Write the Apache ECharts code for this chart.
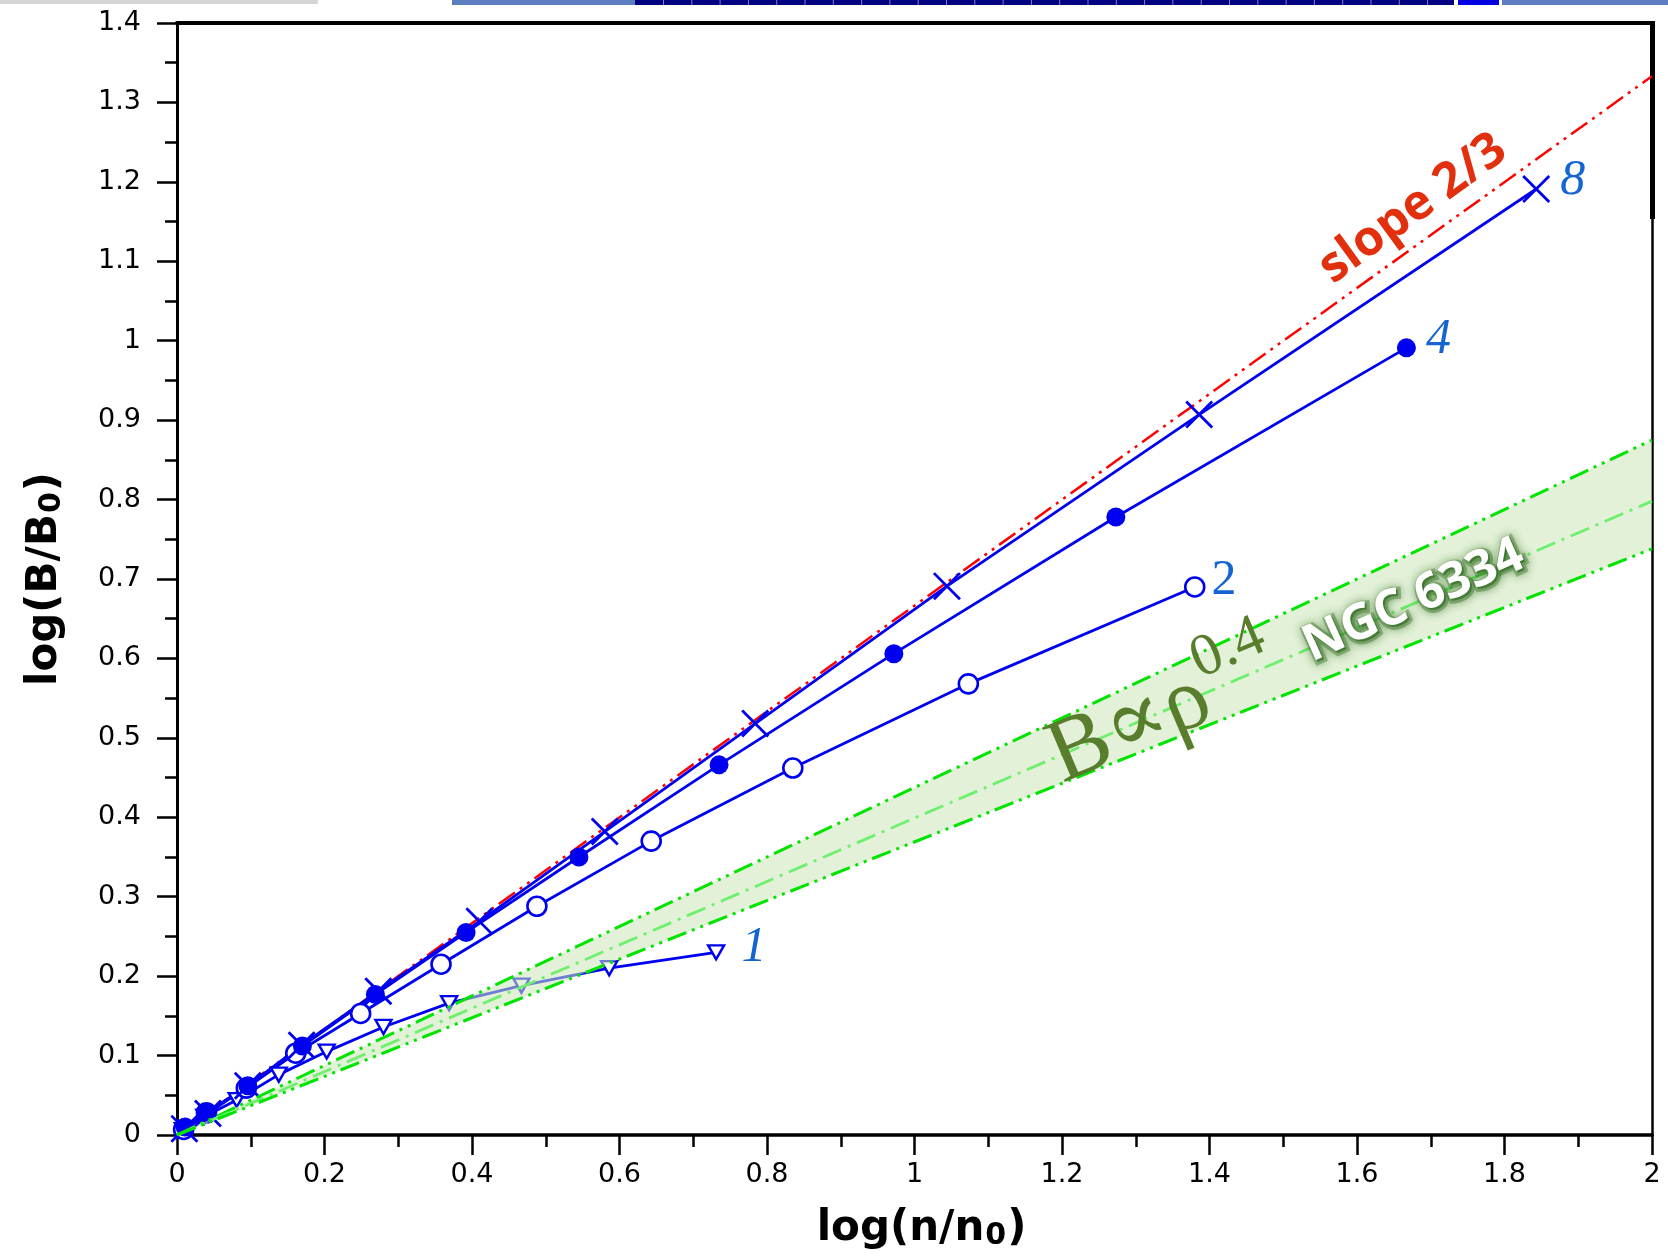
<!DOCTYPE html>
<html><head><meta charset="utf-8">
<script src="https://cdn.jsdelivr.net/npm/echarts@6/dist/echarts.min.js"></script>
<style>html,body{margin:0;padding:0;background:#fff}#c{width:1668px;height:1260px}</style>
</head><body><div id="c"></div>
<script>
// ---- data ----
const xTickLabels = ['0','0.2','0.4','0.6','0.8','1','1.2','1.4','1.6','1.8','2'];
const yTickLabels = ['0','0.1','0.2','0.3','0.4','0.5','0.6','0.7','0.8','0.9','1','1.1','1.2','1.3','1.4'];
const seriesNames = ['8','4','2','1'];
const s8 = [[0.010,0.008],[0.042,0.027],[0.096,0.062],[0.169,0.113],[0.273,0.181],[0.410,0.269],[0.580,0.382],[0.784,0.518],[1.044,0.691],[1.386,0.907],[1.843,1.191]];
const s4 = [[0.011,0.010],[0.040,0.028],[0.096,0.062],[0.170,0.112],[0.269,0.177],[0.392,0.255],[0.545,0.350],[0.735,0.466],[0.972,0.606],[1.273,0.778],[1.667,0.991]];
const s2 = [[0.009,0.007],[0.040,0.028],[0.094,0.059],[0.161,0.103],[0.249,0.153],[0.358,0.215],[0.488,0.288],[0.643,0.370],[0.835,0.462],[1.073,0.568],[1.380,0.690]];
const s1 = [[0.008,0.006],[0.037,0.023],[0.081,0.044],[0.138,0.076],[0.203,0.105],[0.280,0.136],[0.369,0.166],[0.467,0.188],[0.586,0.210],[0.731,0.230]];
const slopeLine = [[0,0],[2,1.333]];
const bandUpper = [[0,0],[2,0.875]];
const bandMid = [[0,0],[2,0.798]];
const bandLower = [[0,0],[2,0.738]];

const BLUE = '#0000f0';
const LBL = '#1464d2';
const chart = echarts.init(document.getElementById('c'));

function withEndLabel(arr, name, extra) {
  return arr.map((p, i) => i === arr.length - 1 ? {
    value: p,
    label: Object.assign({
      show: true, position: 'right', distance: 12, formatter: name,
      color: LBL, fontFamily: 'Liberation Serif', fontStyle: 'italic', fontSize: 50
    }, extra || {})
  } : p);
}

const axisTxt = {color: '#000', fontFamily: 'DejaVu Sans', fontSize: 27};
const subStyle = {fontSize: 30, fontWeight: 'bold', fontFamily: 'DejaVu Sans', color: '#000', verticalAlign: 'bottom', lineHeight: 44, padding: [0, 1, 0, 1]};
const xName = 'log(n/n{sub|0})';
const yName = 'log(B/B{sub|0})';

chart.setOption({
  animation: false,
  backgroundColor: '#fff',
  grid: {left: 177, right: 16, top: 23, bottom: 125},
  xAxis: [{
    type: 'value', min: 0, max: 2, interval: 0.2, position: 'bottom',
    axisLine: {onZero: false, lineStyle: {color: '#000', width: 3.5}},
    axisTick: {length: 20, lineStyle: {color: '#000', width: 2.5}},
    minorTick: {show: true, splitNumber: 2, length: 12, lineStyle: {color: '#000', width: 2.5}},
    splitLine: {show: false},
    axisLabel: Object.assign({margin: 26, formatter: v => xTickLabels[Math.round(v / 0.2)]}, axisTxt),
    name: xName, nameLocation: 'middle', nameGap: 72,
    nameTextStyle: {color: '#000', fontFamily: 'DejaVu Sans', fontWeight: 'bold', fontSize: 42, lineHeight: 44, padding: [0, 0, 0, 14], rich: {sub: subStyle}}
  }, {
    type: 'value', min: 0, max: 2, position: 'top',
    axisLine: {onZero: false, lineStyle: {color: '#000', width: 4}},
    axisTick: {show: false}, axisLabel: {show: false}, splitLine: {show: false}
  }],
  yAxis: [{
    type: 'value', min: 0, max: 1.4, interval: 0.1, position: 'left',
    axisLine: {onZero: false, lineStyle: {color: '#000', width: 3}},
    axisTick: {length: 20, lineStyle: {color: '#000', width: 2.5}},
    minorTick: {show: true, splitNumber: 2, length: 12, lineStyle: {color: '#000', width: 2.5}},
    splitLine: {show: false},
    axisLabel: Object.assign({margin: 36, formatter: v => yTickLabels[Math.round(v / 0.1)]}, axisTxt),
    name: yName, nameLocation: 'middle', nameGap: 110,
    nameTextStyle: {color: '#000', fontFamily: 'DejaVu Sans', fontWeight: 'bold', fontSize: 42, lineHeight: 44, rich: {sub: subStyle}}
  }, {
    type: 'value', min: 0, max: 1.4, position: 'right',
    axisLine: {onZero: false, lineStyle: {color: '#000', width: 2.5}},
    axisTick: {show: false}, axisLabel: {show: false}, splitLine: {show: false}
  }],
  series: [
    {type: 'line', name: 'slope', z: 1, data: slopeLine, symbol: 'none',
     lineStyle: {color: '#ff0000', width: 2.5, type: [20, 6, 3, 6, 3, 6]}},
    {type: 'line', name: seriesNames[3], z: 2, data: withEndLabel(s1, seriesNames[3], {distance: 16, offset: [0, -4]}),
     symbol: 'triangle', symbolRotate: 180, symbolSize: [16, 14],
     lineStyle: {color: BLUE, width: 2.8}, itemStyle: {color: '#fff', borderColor: BLUE, borderWidth: 2.4}},
    {type: 'line', name: seriesNames[2], z: 2, data: withEndLabel(s2, seriesNames[2], {fontStyle: 'normal', distance: 6, offset: [0, -6]}),
     symbol: 'circle', symbolSize: 19,
     lineStyle: {color: BLUE, width: 2.8}, itemStyle: {color: '#fff', borderColor: BLUE, borderWidth: 2.6}},
    {type: 'line', name: seriesNames[1], z: 2, data: withEndLabel(s4, seriesNames[1], {distance: 10, offset: [0, -8]}),
     symbol: 'circle', symbolSize: 19,
     lineStyle: {color: BLUE, width: 2.8}, itemStyle: {color: BLUE, borderColor: BLUE, borderWidth: 0}},
    {type: 'line', name: seriesNames[0], z: 2, data: withEndLabel(s8, seriesNames[0], {distance: 10, offset: [0, -8]}),
     symbol: 'path://M0,0.7L0.7,0L10,9.3L9.3,10ZM9.3,0L10,0.7L0.7,10L0,9.3Z', symbolSize: 28,
     lineStyle: {color: BLUE, width: 2.8}, itemStyle: {color: BLUE, borderWidth: 0}},
    {type: 'custom', name: 'band', z: 3, silent: true, data: [[0, 0]],
     renderItem: (params, api) => {
       const pts = bandUpper.map(p => api.coord(p)).concat(bandLower.slice().reverse().map(p => api.coord(p)));
       return {type: 'polygon', shape: {points: pts}, style: {fill: 'rgba(202,229,182,0.55)'}};
     }},
    {type: 'line', z: 4, data: bandUpper, symbol: 'none', lineStyle: {color: '#00e400', width: 3, type: [20, 6, 3, 6, 3, 6]}},
    {type: 'line', z: 4, data: bandMid, symbol: 'none', lineStyle: {color: '#6ef06e', width: 2.8, type: [20, 7, 3, 7]}},
    {type: 'line', z: 4, data: bandLower, symbol: 'none', lineStyle: {color: '#00e400', width: 3, type: [20, 6, 3, 6, 3, 6]}}
  ]
});

// annotations placed via the chart's own coordinate system
const toPx = p => chart.convertToPixel({gridIndex: 0}, p);
const aSlope = toPx([1.676, 1.166]);
const aNgc = toPx([1.677, 0.6725]);
const aB = toPx([1.334, 0.5416]);
const g = [];
// top strip (scan artifact)
g.push({type: 'rect', shape: {x: 0, y: 0, width: 318, height: 4}, style: {fill: '#d6d6d6'}, silent: true});
g.push({type: 'rect', shape: {x: 452, y: 0, width: 183, height: 5}, style: {fill: '#5a7ec0'}, silent: true});
g.push({type: 'rect', shape: {x: 635, y: 0, width: 819, height: 5}, style: {fill: '#000080'}, silent: true});
for (let xx = 635 + 28; xx < 1454; xx += 28.3) {
  g.push({type: 'rect', shape: {x: xx, y: 0, width: 1, height: 5}, style: {fill: '#8080c0'}, silent: true});
}
g.push({type: 'rect', shape: {x: 1458, y: 0, width: 41, height: 5}, style: {fill: '#0000e0'}, silent: true});
g.push({type: 'rect', shape: {x: 1502, y: 0, width: 166, height: 5}, style: {fill: '#5a7ec0'}, silent: true});
g.push({type: 'rect', shape: {x: 1650, y: 21, width: 5, height: 198}, style: {fill: '#000'}, silent: true});
g.push({type: 'text', z: 100, x: aSlope[0], y: aSlope[1], rotation: 36 * Math.PI / 180, silent: true,
  style: {text: 'slope 2/3', align: 'center', verticalAlign: 'middle', fill: '#e2300e',
          font: 'bold 49px "Open Sans"'}});
// NGC 6334 with dark green glow
const ngcStyle = {text: 'NGC 6334', align: 'center', verticalAlign: 'middle', font: 'bold 50px "Open Sans"'};
g.push({type: 'text', z: 98, x: aNgc[0] + 2, y: aNgc[1] + 2, rotation: 24 * Math.PI / 180, silent: true,
  style: Object.assign({}, ngcStyle, {fill: 'rgba(40,100,25,0.55)', stroke: 'rgba(40,100,25,0.35)', lineWidth: 6,
          textShadowColor: '#2a6a18', textShadowBlur: 10})});
g.push({type: 'text', z: 100, x: aNgc[0], y: aNgc[1], rotation: 24 * Math.PI / 180, silent: true,
  style: Object.assign({}, ngcStyle, {fill: '#ffffff'})});
g.push({type: 'text', z: 100, x: aB[0], y: aB[1], rotation: 23 * Math.PI / 180, silent: true,
  style: {text: '{b|B}{p|\u221D}{b|\u03C1}{s|0.4}', align: 'center', verticalAlign: 'middle',
    rich: {
      b: {fontFamily: '"Liberation Serif","DejaVu Serif"', fontSize: 90, fill: '#587d2c', color: '#587d2c', lineHeight: 110, verticalAlign: 'bottom'},
      p: {fontFamily: '"DejaVu Serif"', fontSize: 92, fill: '#587d2c', color: '#587d2c', lineHeight: 110, verticalAlign: 'bottom'},
      s: {fontFamily: '"Liberation Serif","DejaVu Serif"', fontSize: 60, fill: '#587d2c', color: '#587d2c', verticalAlign: 'top', lineHeight: 60}
    }}});
chart.setOption({graphic: g});
</script></body></html>
